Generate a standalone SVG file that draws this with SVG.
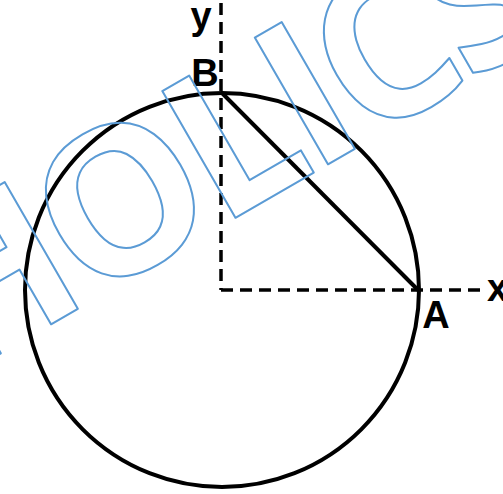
<svg xmlns="http://www.w3.org/2000/svg" width="503" height="494" viewBox="0 0 503 494">
<style>
.lbl{font-family:"Liberation Sans",Arial,sans-serif;font-weight:bold;font-size:38px;fill:#000}
.axis{stroke:#000;stroke-width:3.5;stroke-dasharray:12 7;fill:none}
.solid{stroke:#000;stroke-width:4;fill:none}
.wm{font-family:"Open Sans",sans-serif;font-weight:bold;font-size:205px;letter-spacing:-9px;fill:none;stroke:#5b9bd5;stroke-width:2;stroke-linejoin:round}
</style>
<rect width="503" height="494" fill="#fff"/>
<g id="circle"><circle class="solid" cx="222" cy="290" r="197"/></g>
<g id="connectors">
<line class="axis" x1="221" y1="3" x2="221" y2="290"/>
<line class="axis" x1="221" y1="290" x2="486" y2="290"/>
<line class="solid" x1="222" y1="93" x2="418" y2="290"/>
</g>
<g id="labels">
<text class="lbl" x="201" y="29" text-anchor="middle">y</text>
<text class="lbl" x="205" y="86" text-anchor="middle">B</text>
<text class="lbl" x="436" y="328" text-anchor="middle">A</text>
<text class="lbl" x="487" y="301">x</text>
</g>
<g id="watermark"><text class="wm" transform="translate(-42,378) rotate(-30)">HOLICS</text></g>
</svg>
